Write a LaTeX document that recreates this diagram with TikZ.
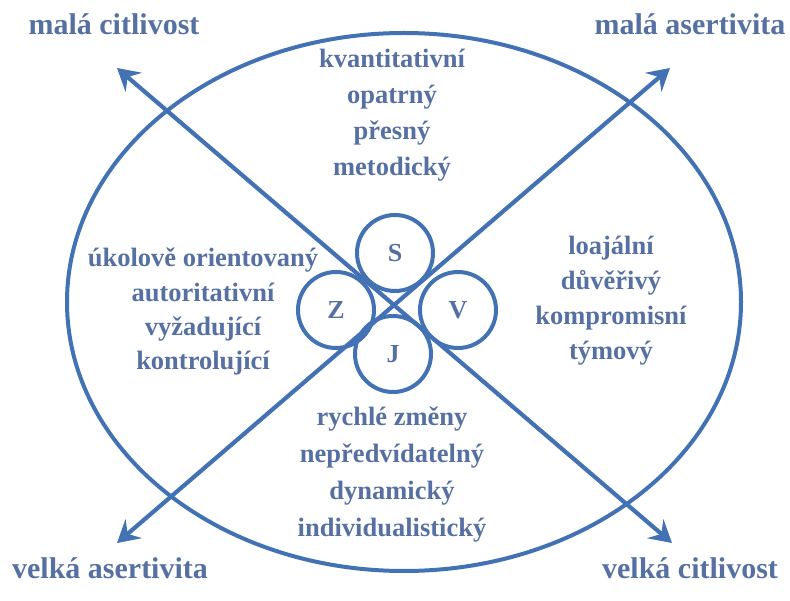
\documentclass[tikz,border=0pt]{standalone}
\usepackage{fontspec}
\setmainfont{Liberation Serif}
\usetikzlibrary{arrows.meta,shapes.geometric}
\definecolor{lineblue}{RGB}{66,114,180}
\definecolor{textblue}{RGB}{86,112,162}
\tikzset{
  axis/.style={draw=lineblue, line width=4.2pt, {Stealth[length=22pt,width=25pt,inset=8pt]}-{Stealth[length=22pt,width=25pt,inset=8pt]}},
  lbl/.style={text=textblue, font=\bfseries\fontsize{26.5}{31}\selectfont, anchor=base, inner sep=0pt},
  corner/.style={text=textblue, font=\bfseries\fontsize{30}{35}\selectfont, anchor=base, inner sep=0pt},
  ring/.style={circle, draw=lineblue, line width=4pt, minimum size=76pt, inner sep=0pt, text=textblue, font=\bfseries\fontsize{26}{30}\selectfont}
}
\begin{document}
\begin{tikzpicture}[x=1pt,y=-1pt]
\useasboundingbox (0,0) rectangle (790,601);
% ellipse
\node[ellipse, draw=lineblue, line width=4pt, minimum width=674pt, minimum height=538pt, inner sep=0pt] (ell) at (404,302) {};
% arrow endpoints
\coordinate (tl) at (117,68);
\coordinate (br) at (672,543);
\coordinate (tr) at (670,68);
\coordinate (bl) at (117,543);
\draw[axis] (tl) -- (br);
\draw[axis] (tr) -- (bl);
% circles
\node[ring] (S) at (395,253) {S};
\node[ring] (J) at (393,354) {J};
\node[ring] (Z) at (336,310) {Z};
\node[ring] (V) at (458,310) {V};
% corner labels
\node[corner] (mc) at (114,35) {malá citlivost};
\node[corner] (ma) at (690,35) {malá asertivita};
\node[corner] (va) at (110,578) {velká asertivita};
\node[corner] (vc) at (690,578) {velká citlivost};
% top
\node[lbl] (t1) at (392,68) {kvantitativní};
\node[lbl] (t2) at (392,104) {opatrný};
\node[lbl] (t3) at (392,140) {přesný};
\node[lbl] (t4) at (392,176) {metodický};
% left
\node[lbl] (l1) at (203,267) {úkolově orientovaný};
\node[lbl] (l2) at (203,302) {autoritativní};
\node[lbl] (l3) at (203,336) {vyžadující};
\node[lbl] (l4) at (203,370) {kontrolující};
% right
\node[lbl] (r1) at (611,255) {loajální};
\node[lbl] (r2) at (611,290) {důvěřivý};
\node[lbl] (r3) at (611,325) {kompromisní};
\node[lbl] (r4) at (611,360) {týmový};
% bottom
\node[lbl] (b1) at (392,425) {rychlé změny};
\node[lbl] (b2) at (392,462) {nepředvídatelný};
\node[lbl] (b3) at (392,499) {dynamický};
\node[lbl] (b4) at (392,536) {individualistický};
\end{tikzpicture}
\end{document}
